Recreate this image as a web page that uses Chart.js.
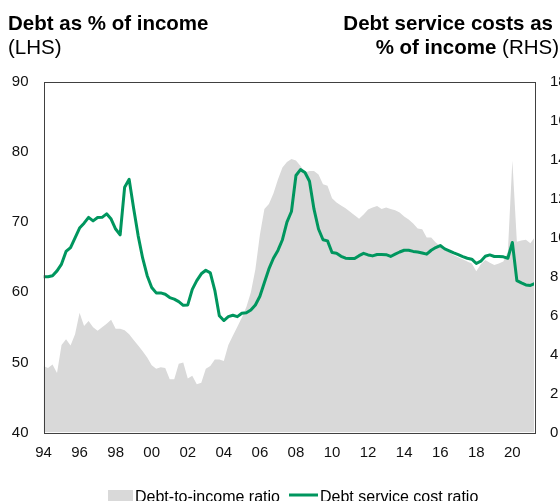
<!DOCTYPE html>
<html>
<head>
<meta charset="utf-8">
<script src="https://cdn.jsdelivr.net/npm/chart.js@4.4.1/dist/chart.umd.min.js"></script>
<style>
  html, body { margin: 0; padding: 0; overflow: hidden; background: #fff; }
  #wrap { width: 560px; height: 501px; }
</style>
</head>
<body>
<div id="wrap"><canvas id="debtChart" width="560" height="501"></canvas></div>
<script>
// quarterly observations starting 1994Q1
const firstYear = 1994;

// Debt-to-income ratio, % (LHS)
const debtToIncome = [
  49.5, 49.2, 49.7, 48.5,   // 1994
  52.5, 53.3, 52.4, 54.0,   // 1995
  57.1, 55.2, 55.9, 55.0,   // 1996
  54.5, 55.0, 55.5, 56.1,   // 1997
  54.8, 54.8, 54.6, 54.0,   // 1998
  53.2, 52.4, 51.6, 50.7,   // 1999
  49.6, 49.1, 49.3, 49.2,   // 2000
  47.6, 47.6, 49.8, 50.0,   // 2001
  47.7, 48.1, 46.9, 47.1,   // 2002
  49.1, 49.5, 50.4, 50.4,   // 2003
  50.2, 52.5, 53.8, 55.1,   // 2004
  56.4, 57.9, 60.0, 63.3,   // 2005
  68.2, 71.9, 72.6, 74.1,   // 2006
  76.1, 77.8, 78.6, 79.0,   // 2007
  78.8, 78.0, 77.1, 77.3,   // 2008
  77.3, 76.8, 75.4, 75.2,   // 2009
  73.4, 72.8, 72.4, 72.0,   // 2010
  71.5, 71.0, 70.5, 71.1,   // 2011
  71.8, 72.1, 72.3, 71.9,   // 2012
  72.1, 71.9, 71.7, 71.4,   // 2013
  70.8, 70.4, 69.8, 69.1,   // 2014
  69.0, 67.8, 67.8, 67.1,   // 2015
  66.6, 66.0, 65.7, 65.3,   // 2016
  65.0, 64.7, 64.4, 64.1,   // 2017
  63.0, 64.0, 64.6, 64.2,   // 2018
  63.9, 64.1, 64.4, 65.8,   // 2019
  78.8, 67.2, 67.4, 67.5,   // 2020
  67.0, 67.9                // 2021
];

// Debt service cost ratio, % (RHS)
const debtServiceCost = [
  8.0, 8.0, 8.05, 8.3,      // 1994
  8.65, 9.3, 9.5, 10.0,     // 1995
  10.5, 10.75, 11.05, 10.87,// 1996
  11.04, 11.05, 11.23, 10.96, // 1997
  10.45, 10.15, 12.6, 13.0, // 1998
  11.5, 10.1, 8.95, 8.05,   // 1999
  7.45, 7.17, 7.17, 7.1,    // 2000
  6.93, 6.85, 6.72, 6.53,   // 2001
  6.55, 7.35, 7.8, 8.15,    // 2002
  8.33, 8.2, 7.3, 6.0,      // 2003
  5.75, 5.95, 6.02, 5.95,   // 2004
  6.12, 6.15, 6.29, 6.55,   // 2005
  7.0, 7.7, 8.4, 8.95,      // 2006
  9.35, 9.9, 10.8, 11.35,   // 2007
  13.2, 13.5, 13.35, 12.9,  // 2008
  11.47, 10.45, 9.9, 9.84,  // 2009
  9.24, 9.21, 9.05, 8.95,   // 2010
  8.93, 8.93, 9.08, 9.2,    // 2011
  9.12, 9.07, 9.14, 9.14,   // 2012
  9.13, 9.04, 9.16, 9.27,   // 2013
  9.36, 9.36, 9.3, 9.27,    // 2014
  9.22, 9.16, 9.36, 9.5,    // 2015
  9.6, 9.43, 9.33, 9.22,    // 2016
  9.13, 9.03, 8.95, 8.9,    // 2017
  8.68, 8.8, 9.05, 9.12,    // 2018
  9.04, 9.04, 9.02, 8.95,   // 2019
  9.76, 7.8, 7.68, 7.58,    // 2020
  7.55, 7.65                // 2021
];

const xTickYears = [1994, 1996, 1998, 2000, 2002, 2004, 2006, 2008, 2010, 2012, 2014, 2016, 2018, 2020];
const xTickLabels = ['94', '96', '98', '00', '02', '04', '06', '08', '10', '12', '14', '16', '18', '20'];
const lhsTicks = [40, 50, 60, 70, 80, 90];
const rhsTicks = [0, 2, 4, 6, 8, 10, 12, 14, 16, 18];

const FONT = "'Liberation Sans', Arial, sans-serif";
const GREY = '#d9d9d9';
const GREEN = '#00965e';

const toPoints = (values) => values.map((v, i) => ({ x: firstYear + i / 4, y: v }));

// no gridlines and no tick marks anywhere
const noGrid = { display: false, drawTicks: false, tickLength: 0 };

// frame, headings and legend drawn straight onto the canvas
const decorations = {
    id: 'decorations',
    afterDraw(chart) {
        const ctx = chart.ctx;
        const a = chart.chartArea;
        ctx.save();

        ctx.strokeStyle = '#404040';
        ctx.lineWidth = 1;
        ctx.strokeRect(Math.round(a.left) + 0.5, Math.round(a.top) + 0.5,
            Math.round(a.right - a.left), Math.round(a.bottom - a.top));

        ctx.fillStyle = '#000';
        ctx.textBaseline = 'alphabetic';

        // left heading
        ctx.textAlign = 'left';
        ctx.font = 'bold 20.5px ' + FONT;
        ctx.fillText('Debt as % of income', 8, 29.5);
        ctx.font = '20.5px ' + FONT;
        ctx.fillText('(LHS)', 8, 53.5);

        // right heading
        ctx.textAlign = 'right';
        ctx.font = 'bold 20.5px ' + FONT;
        ctx.fillText('Debt service costs as', 553, 29.5);
        ctx.font = '20.5px ' + FONT;
        const rhs = ' (RHS)';
        const w = ctx.measureText(rhs).width;
        ctx.fillText(rhs, 559, 53.5);
        ctx.font = 'bold 20.5px ' + FONT;
        ctx.fillText('% of income', 559 - w, 53.5);

        // legend (cut by the bottom edge, as in the original)
        ctx.textAlign = 'left';
        ctx.font = '16px ' + FONT;
        ctx.fillStyle = GREY;
        ctx.fillRect(108, 490, 25, 14);
        ctx.fillStyle = '#000';
        ctx.fillText('Debt-to-income ratio', 135, 501.5);
        ctx.strokeStyle = GREEN;
        ctx.lineWidth = 3;
        ctx.beginPath();
        ctx.moveTo(289, 495);
        ctx.lineTo(318, 495);
        ctx.stroke();
        ctx.fillText('Debt service cost ratio', 320, 501.5);

        ctx.restore();
    }
};

new Chart(document.getElementById('debtChart'), {
    type: 'line',
    data: {
        datasets: [
            {
                label: 'Debt service cost ratio',
                data: toPoints(debtServiceCost),
                yAxisID: 'y1',
                borderColor: GREEN,
                borderWidth: 3,
                borderJoinStyle: 'round',
                pointRadius: 0,
                tension: 0,
                fill: false,
                order: 0
            },
            {
                label: 'Debt-to-income ratio',
                data: toPoints(debtToIncome),
                yAxisID: 'y',
                backgroundColor: GREY,
                borderWidth: 0,
                pointRadius: 0,
                tension: 0,
                fill: 'start',
                order: 1
            }
        ]
    },
    options: {
        responsive: false,
        animation: false,
        events: [],
        layout: { padding: { left: 11.5, right: 0, top: 82, bottom: 39.5 } },
        plugins: {
            legend: { display: false },
            tooltip: { enabled: false }
        },
        scales: {
            x: {
                type: 'linear',
                min: 1994,
                max: 2021.2,
                grid: noGrid,
                border: { display: false },
                afterBuildTicks: (axis) => { axis.ticks = xTickYears.map(v => ({ value: v })); },
                afterFit: (axis) => { axis.height = 29; },
                ticks: {
                    autoSkip: false,
                    maxRotation: 0,
                    padding: 11,
                    color: '#111',
                    font: { family: FONT, size: 15 },
                    callback: (value) => xTickLabels[xTickYears.indexOf(value)]
                }
            },
            y: {
                position: 'left',
                min: 40,
                max: 90,
                grid: noGrid,
                border: { display: false },
                afterBuildTicks: (axis) => { axis.ticks = lhsTicks.map(v => ({ value: v })); },
                afterFit: (axis) => { axis.width = 32; },
                ticks: {
                    padding: 15,
                    color: '#111',
                    font: { family: FONT, size: 15 }
                }
            },
            y1: {
                position: 'right',
                min: 0,
                max: 18,
                grid: noGrid,
                border: { display: false },
                afterBuildTicks: (axis) => { axis.ticks = rhsTicks.map(v => ({ value: v })); },
                afterFit: (axis) => { axis.width = 26; },
                ticks: {
                    padding: 16,
                    color: '#111',
                    font: { family: FONT, size: 15 }
                }
            }
        }
    },
    plugins: [decorations]
});
</script>
</body>
</html>
